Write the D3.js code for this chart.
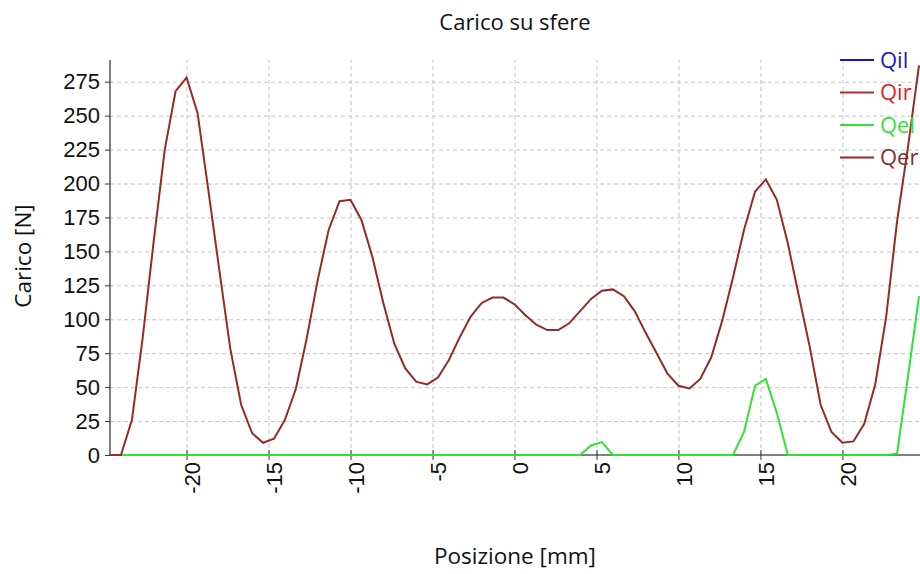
<!DOCTYPE html>
<html>
<head>
<meta charset="utf-8">
<title>Carico su sfere</title>
<script src="https://cdn.jsdelivr.net/npm/d3@7"></script>
<style>
	body { margin: 0; background: #fff; }
	svg { display: block; font-family: "Open Sans", "Noto Sans", sans-serif; }
</style>
</head>
<body>
<script>

// posizione [mm] dei punti calcolati
var posizione = [-24.67, -24.00, -23.33, -22.67, -22.00, -21.33, -20.67, -20.00, -19.33, -18.67,
	-18.00, -17.33, -16.67, -16.00, -15.33, -14.67, -14.00, -13.33, -12.67, -12.00,
	-11.33, -10.67, -10.00, -9.33, -8.67, -8.00, -7.33, -6.67, -6.00, -5.33,
	-4.67, -4.00, -3.33, -2.67, -2.00, -1.33, -0.67, 0.00, 0.67, 1.33,
	2.00, 2.67, 3.33, 4.00, 4.67, 5.33, 6.00, 6.67, 7.33, 8.00,
	8.67, 9.33, 10.00, 10.67, 11.33, 12.00, 12.67, 13.33, 14.00, 14.67,
	15.33, 16.00, 16.67, 17.33, 18.00, 18.67, 19.33, 20.00, 20.67, 21.33,
	22.00, 22.67, 23.33, 24.00, 24.67];

// Qil e Qir non si vedono nel grafico: solo voce di legenda
var Qil = [];
var Qir = [];

var Qel = [0, 0, 0, 0, 0, 0, 0, 0, 0, 0, 0, 0, 0, 0, 0, 0, 0, 0, 0, 0, 0, 0, 0, 0, 0,
	0, 0, 0, 0, 0, 0, 0, 0, 0, 0, 0, 0, 0, 0, 0, 0, 0, 0, 0, 7, 9.5, 0, 0, 0, 0,
	0, 0, 0, 0, 0, 0, 0, 0, 17, 51, 56, 31, 0, 0, 0, 0, 0, 0, 0, 0, 0, 0, 1, 58, 117];

var Qer = [0, 0, 26, 87, 158, 225, 268, 278, 252, 195,
	136, 78, 37, 16, 9, 12, 26, 49, 86, 129,
	166, 187, 188, 173, 146, 112, 82, 64, 54, 52,
	57, 70, 87, 102, 112, 116, 116, 111, 103, 96,
	92, 92, 97, 106, 115, 121, 122, 117, 106, 90,
	75, 60, 51, 49, 56, 72, 99, 131, 166, 194,
	203, 188, 156, 118, 80, 37, 17, 9, 10, 23,
	52, 102, 172, 227, 287];

var nomiSerie = ["Qil", "Qir", "Qel", "Qer"];
var coloriSerie = ["#1414d2", "#b82828", "#2ee42e", "#952a2a"];
var coloriTesto = ["#1414d2", "#e42020", "#2ee42e", "#8e2a2a"];
var xTicks = [-20, -15, -10, -5, 0, 5, 10, 15, 20];
var yTicks = [0, 25, 50, 75, 100, 125, 150, 175, 200, 225, 250, 275];

var serie = [Qil, Qir, Qel, Qer];

var mLeft = 110, mRight = 920, mTop = 60, mBottom = 455;

var svg = d3.select("body").append("svg")
	.attr("width", 920)
	.attr("height", 574);

var x = d3.scaleLinear().domain([-24.67, 24.67]).range([mLeft, 919]);
var y = d3.scaleLinear().domain([0, 291]).range([mBottom, mTop]);

// griglia tratteggiata
svg.append("g")
	.attr("transform", "translate(0," + mBottom + ")")
	.call(d3.axisBottom(x).tickValues(xTicks).tickSize(-(mBottom - mTop)).tickFormat(""))
	.call(function(g){ g.select(".domain").remove(); })
	.selectAll("line")
	.attr("stroke", "#c4c4c4")
	.attr("stroke-dasharray", "4,3");

svg.append("g")
	.attr("transform", "translate(" + mLeft + ",0)")
	.call(d3.axisLeft(y).tickValues(yTicks.slice(1)).tickSize(-(mRight - mLeft)).tickFormat(""))
	.call(function(g){ g.select(".domain").remove(); })
	.selectAll("line")
	.attr("stroke", "#c4c4c4")
	.attr("stroke-dasharray", "4,3");

// assi
var xAxis = svg.append("g")
	.attr("transform", "translate(0," + mBottom + ")")
	.call(d3.axisBottom(x).tickValues(xTicks).tickSize(5).tickSizeOuter(0).tickFormat(function(d){ return String(d); }));
xAxis.select(".domain").attr("d", "M" + mLeft + ",0H" + mRight).attr("stroke", "#000");
xAxis.selectAll(".tick line").attr("y1", -5).attr("stroke", "#333");
xAxis.selectAll(".tick text")
	.attr("transform", "rotate(-90)")
	.attr("text-anchor", "end")
	.attr("x", -7)
	.attr("y", 0)
	.attr("dy", "0.6em")
	.attr("font-size", 22)
	.attr("font-family", null)
	.attr("fill", "#111");

var yAxis = svg.append("g")
	.attr("transform", "translate(" + mLeft + ",0)")
	.call(d3.axisLeft(y).tickValues(yTicks).tickSize(5).tickSizeOuter(0).tickPadding(5));
yAxis.select(".domain").attr("d", "M0," + mBottom + "V" + mTop).attr("stroke", "#000");
yAxis.selectAll(".tick line").attr("stroke", "#333");
yAxis.selectAll(".tick text")
	.attr("font-size", 22)
	.attr("font-family", null)
	.attr("fill", "#111");

// linee
var line = d3.line()
	.x(function(d, i){ return x(posizione[i]); })
	.y(function(d){ return y(d); });

svg.selectAll("path.serie")
	.data(serie)
	.enter()
		.append("path")
		.attr("class", "serie")
		.attr("d", function(d){ return d.length ? line(d) : null; })
		.attr("fill", "none")
		.attr("stroke", function(d, i){ return coloriSerie[i]; })
		.attr("stroke-width", 2);

// legenda
var legenda = svg.selectAll("g.leg")
	.data(nomiSerie)
	.enter()
		.append("g")
		.attr("class", "leg")
		.attr("transform", function(d, i){ return "translate(840," + (60 + i * 32.5) + ")"; });

legenda.append("line")
	.attr("x1", 0).attr("x2", 34)
	.attr("stroke", function(d, i){ return coloriSerie[i]; })
	.attr("stroke-width", 2);

legenda.append("text")
	.attr("x", 40)
	.attr("dy", "0.35em")
	.attr("font-size", 22)
	.attr("fill", function(d, i){ return coloriTesto[i]; })
	.text(function(d){ return d; });

// titoli
svg.append("text")
	.attr("x", 515).attr("y", 30)
	.attr("text-anchor", "middle")
	.attr("font-size", 22)
	.attr("fill", "#111")
	.text("Carico su sfere");

svg.append("text")
	.attr("transform", "translate(23,256) rotate(-90)")
	.attr("text-anchor", "middle")
	.attr("dy", "0.35em")
	.attr("font-size", 22.5)
	.attr("fill", "#111")
	.text("Carico [N]");

svg.append("text")
	.attr("x", 515).attr("y", 564)
	.attr("text-anchor", "middle")
	.attr("font-size", 22.5)
	.attr("fill", "#111")
	.text("Posizione [mm]");

</script>
</body>
</html>
